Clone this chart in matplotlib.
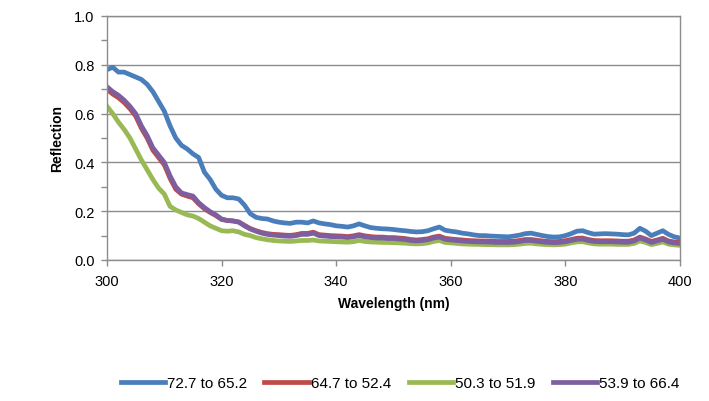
import matplotlib
matplotlib.use("Agg")
import matplotlib.pyplot as plt
from matplotlib.ticker import MultipleLocator

plt.rcParams['font.family'] = ['Liberation Sans', 'DejaVu Sans']

wavelength = list(range(300, 401))

series_names = ["72.7 to 65.2", "64.7 to 52.4", "50.3 to 51.9", "53.9 to 66.4"]

blue = [0.78, 0.79, 0.77, 0.77, 0.76, 0.75, 0.74, 0.72, 0.69, 0.65,
        0.61, 0.55, 0.50, 0.47, 0.455, 0.435, 0.42, 0.36, 0.33, 0.29,
        0.265, 0.255, 0.255, 0.25, 0.225, 0.19, 0.175, 0.17, 0.168, 0.16,
        0.155, 0.152, 0.15, 0.155, 0.155, 0.152, 0.16, 0.152, 0.148, 0.145,
        0.14, 0.138, 0.135, 0.14, 0.148, 0.14, 0.133, 0.13, 0.128, 0.127,
        0.125, 0.122, 0.12, 0.117, 0.115, 0.116, 0.12, 0.128, 0.135, 0.122,
        0.118, 0.115, 0.11, 0.107, 0.103, 0.10, 0.10, 0.098, 0.097, 0.096,
        0.095, 0.098, 0.102, 0.108, 0.11, 0.105, 0.10, 0.096, 0.094, 0.095,
        0.10, 0.108, 0.118, 0.12, 0.112, 0.106, 0.107, 0.108, 0.107, 0.106,
        0.104, 0.103, 0.11, 0.13, 0.118, 0.10, 0.11, 0.12, 0.105, 0.095,
        0.09]

red = [0.70, 0.68, 0.665, 0.645, 0.62, 0.59, 0.54, 0.50, 0.45, 0.42,
       0.39, 0.335, 0.29, 0.27, 0.262, 0.255, 0.23, 0.21, 0.195, 0.182,
       0.166, 0.162, 0.16, 0.156, 0.142, 0.129, 0.12, 0.113, 0.108, 0.105,
       0.104, 0.102, 0.101, 0.104, 0.109, 0.109, 0.114, 0.104, 0.102, 0.10,
       0.099, 0.098, 0.096, 0.099, 0.104, 0.099, 0.096, 0.094, 0.094, 0.092,
       0.092, 0.09, 0.088, 0.084, 0.082, 0.084, 0.087, 0.094, 0.098, 0.089,
       0.086, 0.084, 0.082, 0.08, 0.079, 0.078, 0.078, 0.077, 0.076, 0.076,
       0.076, 0.077, 0.08, 0.084, 0.084, 0.081, 0.078, 0.076, 0.075, 0.076,
       0.079, 0.084, 0.089, 0.09, 0.084, 0.08, 0.079, 0.079, 0.079, 0.078,
       0.077, 0.077, 0.082, 0.094, 0.086, 0.076, 0.082, 0.089, 0.078, 0.074,
       0.072]

green = [0.63, 0.60, 0.565, 0.535, 0.50, 0.455, 0.41, 0.37, 0.33, 0.295,
         0.27, 0.22, 0.205, 0.195, 0.185, 0.18, 0.17, 0.155, 0.14, 0.13,
         0.12, 0.118, 0.12, 0.115, 0.105, 0.10, 0.092, 0.087, 0.083, 0.08,
         0.078, 0.077, 0.076, 0.078, 0.08, 0.08, 0.082, 0.078, 0.077, 0.076,
         0.075, 0.074, 0.073, 0.075, 0.08, 0.076, 0.074, 0.073, 0.072, 0.072,
         0.071, 0.07, 0.069, 0.067, 0.066, 0.067, 0.07, 0.076, 0.08, 0.072,
         0.07, 0.068, 0.066, 0.065, 0.064, 0.064, 0.063, 0.063, 0.062, 0.062,
         0.062, 0.063, 0.065, 0.068, 0.069, 0.066, 0.064, 0.063, 0.062, 0.063,
         0.065, 0.07, 0.074, 0.075, 0.07, 0.066, 0.065, 0.065, 0.065, 0.064,
         0.064, 0.064, 0.068, 0.078, 0.072, 0.063, 0.068, 0.074, 0.065, 0.062,
         0.06]

purple = [0.71, 0.69, 0.675, 0.655, 0.63, 0.60, 0.55, 0.51, 0.46, 0.43,
          0.40, 0.345, 0.30, 0.275, 0.268, 0.262, 0.235, 0.215, 0.198, 0.185,
          0.168, 0.162, 0.16, 0.155, 0.14, 0.127, 0.118, 0.11, 0.105, 0.102,
          0.10, 0.098, 0.097, 0.10, 0.105, 0.105, 0.11, 0.10, 0.098, 0.096,
          0.095, 0.094, 0.092, 0.095, 0.10, 0.095, 0.092, 0.09, 0.09, 0.088,
          0.088, 0.086, 0.084, 0.08, 0.078, 0.08, 0.083, 0.09, 0.094, 0.085,
          0.082, 0.08, 0.078, 0.076, 0.075, 0.074, 0.074, 0.073, 0.072, 0.072,
          0.072, 0.073, 0.076, 0.08, 0.08, 0.077, 0.074, 0.072, 0.071, 0.072,
          0.075, 0.08, 0.085, 0.086, 0.08, 0.076, 0.075, 0.075, 0.075, 0.074,
          0.073, 0.073, 0.078, 0.09, 0.082, 0.072, 0.078, 0.085, 0.074, 0.07,
          0.068]

colors = ["#4a7ebb", "#be4b48", "#98b954", "#7d5fa0"]

fig = plt.figure(figsize=(7.09, 4.02), dpi=100)
ax = fig.add_axes([107/709, 1 - 261/402, (680 - 107)/709, (261 - 17)/402])

for vals, name, c in zip([blue, red, green, purple], series_names, colors):
    ax.plot(wavelength, vals, color=c, lw=3.4, label=name, solid_joinstyle='round')

ax.set_xlim(300, 400)
ax.set_ylim(0, 1.0)
ax.xaxis.set_major_locator(MultipleLocator(20))
ax.yaxis.set_major_locator(MultipleLocator(0.2))
ax.yaxis.set_minor_locator(MultipleLocator(0.1))
ax.yaxis.set_major_formatter(matplotlib.ticker.FormatStrFormatter('%.1f'))
ax.grid(axis='y', which='major', color='#8c8c8c', lw=1.0)
ax.set_axisbelow(True)
for s in ax.spines.values():
    s.set_color('#8c8c8c')
    s.set_linewidth(1.0)
ax.tick_params(axis='both', which='both', direction='out', color='#8c8c8c',
               labelsize=10.5, length=4, width=1.0)
ax.tick_params(axis='x', pad=6)
ax.tick_params(axis='y', pad=5)

ax.set_xlabel("Wavelength (nm)", fontsize=10, fontweight='bold', labelpad=6)
ax.set_ylabel("Reflection", fontsize=10, fontweight='bold', labelpad=7)

fig.legend(loc='center', bbox_to_anchor=(400/709, 1 - 384/402), ncol=4,
           frameon=False, fontsize=11, handlelength=2.9, handletextpad=0.13,
           columnspacing=1.15)

fig.savefig("out.png", dpi=100)
